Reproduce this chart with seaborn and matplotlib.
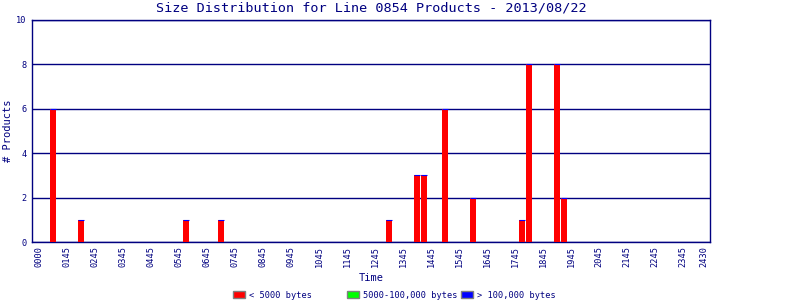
import matplotlib
matplotlib.use("Agg")
import matplotlib.pyplot as plt
from matplotlib.patches import Patch
import seaborn as sns
import pandas as pd

# ---- data ----
# 15-minute bins, labelled by bin end time (0045 ... 2430)
bins = ["%02d%02d" % divmod(45 + 15 * i, 60) for i in range(96)]

small_times = ["0115", "0215", "0600", "0715", "1315", "1415", "1430",
               "1515", "1615", "1800", "1815", "1915", "1930"]
small_counts = [6, 1, 1, 1, 1, 3, 3, 6, 2, 1, 8, 8, 2]   # < 5000 bytes
medium_counts = [0, 0, 0, 0, 0, 0, 0, 0, 0, 0, 0, 0, 0]  # 5000-100,000 bytes
large_counts = [0, 0, 0, 0, 0, 0, 0, 0, 0, 0, 0, 0, 0]   # > 100,000 bytes

xtick_bins = ["0045", "0145", "0245", "0345", "0445", "0545", "0645", "0745",
              "0845", "0945", "1045", "1145", "1245", "1345", "1445", "1545",
              "1645", "1745", "1845", "1945", "2045", "2145", "2245", "2345", "2430"]
xtick_labels = ["0000", "0145", "0245", "0345", "0445", "0545", "0645", "0745",
                "0845", "0945", "1045", "1145", "1245", "1345", "1445", "1545",
                "1645", "1745", "1845", "1945", "2045", "2145", "2245", "2345", "2430"]
yticks = [0, 2, 4, 6, 8, 10]

title = "Size Distribution for Line 0854 Products - 2013/08/22"
legend_labels = ["< 5000 bytes", "5000-100,000 bytes", "> 100,000 bytes"]

# ---- style ----
NAVY = "#000080"
RED, GREEN, BLUE = "#ff0000", "#00ff00", "#0000ff"

sns.set_theme(style="white")
plt.rcParams["font.family"] = ["DejaVu Sans Mono"]

small_map = dict(zip(small_times, small_counts))
med_map = dict(zip(small_times, medium_counts))
large_map = dict(zip(small_times, large_counts))
df = pd.DataFrame({
    "time": bins,
    "small": [small_map.get(b, 0) for b in bins],
    "medium": [med_map.get(b, 0) for b in bins],
    "large": [large_map.get(b, 0) for b in bins],
})

fig = plt.figure(figsize=(8, 3), dpi=100)
ax = fig.add_axes([32 / 800, 1 - 242 / 300, 678 / 800, 222 / 300])

sns.barplot(data=df, x="time", y="small", order=bins, color=RED,
            saturation=1, width=0.86, linewidth=0, ax=ax, zorder=3,
            antialiased=False)

# stacked caps for the other classes (drawn as thin outlines on top)
pos = {b: i for i, b in enumerate(bins)}
nz = df[(df["small"] + df["medium"] + df["large"]) > 0]
xs = [pos[t] for t in nz["time"]]
ax.bar(xs, nz["medium"], bottom=nz["small"], width=0.86, color=GREEN,
       linewidth=0, zorder=4, antialiased=False)
ax.bar(xs, nz["large"], bottom=nz["small"] + nz["medium"], width=0.86,
       facecolor=BLUE, edgecolor=BLUE, linewidth=0.8, zorder=5,
       joinstyle="bevel", capstyle="butt")

ax.set_xlim(-1.0, 95.86)
ax.set_ylim(0, 10)
ax.set_yticks(yticks)
ax.set_yticklabels([str(v) for v in yticks])
ax.set_xticks([pos[b] for b in xtick_bins])
ax.set_xticklabels(xtick_labels, rotation=90)

ax.yaxis.grid(True, color=NAVY, linewidth=1.0, zorder=1)
ax.set_axisbelow(True)
for s in ax.spines.values():
    s.set_color(NAVY)
    s.set_linewidth(1.0)
ax.tick_params(axis="both", length=0, colors=NAVY, labelsize=6.2)
ax.tick_params(axis="x", pad=3)
ax.tick_params(axis="y", pad=4)

ax.set_xlabel("Time", color=NAVY, fontsize=7.5, labelpad=4)
ax.set_ylabel("# Products", color=NAVY, fontsize=7.5, labelpad=2)
ax.set_title(title, color=NAVY, fontsize=9.7, pad=6)

colors = [RED, GREEN, BLUE]
lx = [233, 347, 461]
for c, lab, x in zip(colors, legend_labels, lx):
    leg = fig.legend(handles=[Patch(facecolor=c, edgecolor="#808080", linewidth=1.0)],
                     labels=[lab], loc="center left",
                     bbox_to_anchor=(x / 800, 1 - 295 / 300),
                     frameon=False, fontsize=6.2, handlelength=1.4,
                     handleheight=0.95, handletextpad=0.45, borderpad=0,
                     borderaxespad=0)
    for t in leg.get_texts():
        t.set_color(NAVY)

fig.savefig("out.png", dpi=100)
